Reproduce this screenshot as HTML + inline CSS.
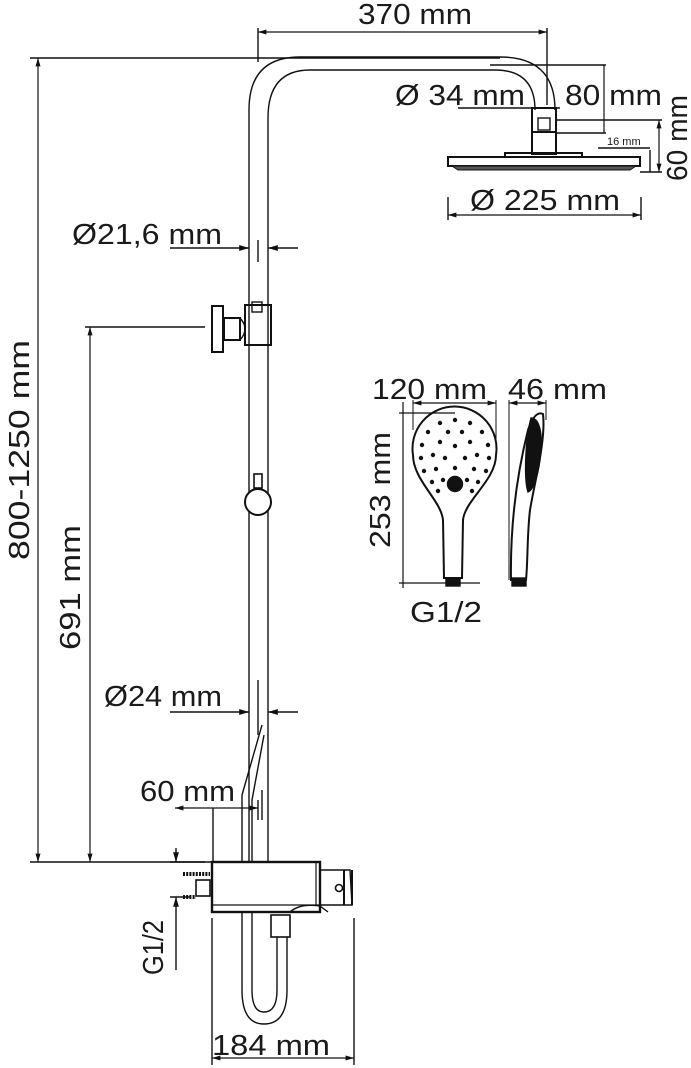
<!DOCTYPE html>
<html><head><meta charset="utf-8"><style>
html,body{margin:0;padding:0;background:#fff}
svg{display:block}
text{font-family:"Liberation Sans",sans-serif;fill:#1a1a1a}
</style></head><body>
<svg width="691" height="1068" viewBox="0 0 691 1068" xmlns="http://www.w3.org/2000/svg">
<defs>
<marker id="a" viewBox="0 0 10 10" refX="10" refY="5" markerWidth="7" markerHeight="7" orient="auto-start-reverse"><path d="M0,2 L10,5 L0,8 z" fill="#111"/></marker>
</defs>
<g stroke="#111" fill="none" stroke-width="1.4">
<path d="M249,862 L249,110 Q249,57 300,57 L500,57 Q555,57 555,110"/>
<path d="M268,862 L268,118 Q268,70 310,70 L495,70 Q535,70 535,110"/>
<rect x="532" y="108" width="24" height="24" stroke-width="2"/>
<rect x="538" y="118" width="12" height="12"/>
<rect x="532" y="132" width="24" height="22" stroke-width="2"/>
<rect x="505" y="153" width="77" height="4" stroke-width="2"/>
<rect x="448" y="157" width="192" height="9" stroke-width="2"/>
<path d="M452,166 L636,166 L630,170 L458,170 z" fill="#555" stroke-width="1"/>
<path d="M258,28 L258,62 M547,28 L547,105"/>
<path d="M258,32 L547,32" marker-start="url(#a)" marker-end="url(#a)" stroke-width="1.2"/>
<path d="M30,58 L500,58 M30,862 L215,862"/>
<path d="M38,58 L38,862" marker-start="url(#a)" marker-end="url(#a)" stroke-width="1.2"/>
<path d="M85,327 L205,327"/>
<path d="M90,327 L90,862" marker-start="url(#a)" marker-end="url(#a)" stroke-width="1.2"/>
<path d="M458,108 L560,108"/>
<path d="M490,65 L606,65 M557,133 L606,133"/>
<path d="M604,65 L604,133" stroke-width="1.2"/>
<path d="M557,120 L662,120 M598,148 L650,148"/>
<path d="M659,120 L659,172" marker-start="url(#a)" marker-end="url(#a)" stroke-width="1.2"/>
<path d="M650,150 L650,172 M640,172 L662,172"/>
<path d="M448,197 L448,220 M641,197 L641,220"/>
<path d="M448,215 L641,215" marker-start="url(#a)" marker-end="url(#a)" stroke-width="1.2"/>
<path d="M170,248 L249,248" marker-end="url(#a)"/>
<path d="M298,248 L268,248" marker-end="url(#a)"/>
<path d="M258,240 L258,262"/>
<rect x="245" y="305" width="26" height="40" stroke-width="2"/>
<rect x="252" y="302" width="10" height="10"/>
<rect x="212" y="306" width="11" height="46" stroke-width="2"/>
<rect x="224" y="318" width="16" height="22" stroke-width="2"/>
<path d="M240,318 Q250,329 240,340"/>
<rect x="254" y="474" width="8" height="14" stroke-width="1.6"/>
<circle cx="258" cy="502" r="13" stroke-width="2" fill="#fff"/>
<path d="M170,712 L249,712" marker-end="url(#a)"/>
<path d="M298,712 L268,712" marker-end="url(#a)"/>
<path d="M258,680 L258,735"/>
<path d="M242,862 L242,795 L262,725 M252,862 L252,800 L264,735"/>
<path d="M213,808 L213,862"/>
<path d="M175,808 L250,808 M213,808 L258,808" marker-start="url(#a)" marker-end="url(#a)" stroke-width="1.2"/>
<path d="M258,800 L258,820 M262,790 L262,820"/>
<rect x="212" y="862" width="108" height="50" stroke-width="2.4"/>
<path d="M212,905 L320,905 M316,862 L316,905" stroke-width="1.2"/>
<path d="M290,912 Q300,903 320,906 L328,912" stroke-width="1.4"/>
<path d="M320,870 L350,870 L352,905 L320,905"/>
<path d="M344,870 L344,905 M352,870 L352,905" stroke-width="2"/>
<circle cx="339" cy="888" r="3.5" stroke-width="1.6"/>
<rect x="196" y="880" width="14" height="16" stroke-width="1.6"/>
<path d="M183,874 L210,874 M183,897 L196,897" stroke-width="4" stroke-dasharray="2 1.2"/>
<path d="M170,862 L205,862 M170,897 L190,897"/>
<path d="M176,848 L176,862" marker-end="url(#a)"/>
<path d="M176,970 L176,897" marker-end="url(#a)"/>
<rect x="271" y="915" width="19" height="22" stroke-width="1.6"/>
<path d="M242,912 L242,990 Q242,1024 264,1024 Q287,1024 287,990 L287,937"/>
<path d="M252,912 L252,990 Q252,1012 264,1012 Q277,1012 277,990 L277,937"/>
<path d="M212,918 L212,1065 M354,918 L354,1065"/>
<path d="M212,1058 L354,1058" marker-start="url(#a)" marker-end="url(#a)" stroke-width="1.2"/>
<path d="M413,455 A42,42 0 1 1 496,455 C496,480 465,500 463,520 L462,578 L444,578 L443,520 C441,500 413,480 413,455 z" stroke-width="2"/>
<rect x="446" y="578" width="14" height="8" fill="#111"/>
<circle cx="455" cy="484" r="7.5" fill="#111"/>
<path d="M403,402 L403,588 M399,413 L455,413 M399,583 L480,583" stroke-width="1.2"/>
<path d="M413,403 L496,403" marker-start="url(#a)" marker-end="url(#a)" stroke-width="1.2"/>
<path d="M413,400 L413,430 M496,400 L496,440" stroke-width="1"/>
<path d="M511,580 C510,520 518,470 528,430 Q535,410 543,414 C546,440 535,480 530,510 C527,535 528,560 526,580 z" stroke-width="2"/>
<path d="M531,418 C538,418 544,430 540,460 C537,480 533,490 528,492 C524,480 525,440 531,418 z" fill="#111"/>
<rect x="512" y="578" width="14" height="8" fill="#111"/>
<path d="M509,403 L546,403" marker-start="url(#a)" marker-end="url(#a)" stroke-width="1.2"/>
<path d="M509,400 L509,580 M546,400 L546,420" stroke-width="1"/>
</g>
<g fill="#111">
<circle cx="455" cy="420" r="2.2"/><circle cx="440" cy="423" r="2.2"/><circle cx="470" cy="423" r="2.2"/>
<circle cx="428" cy="432" r="2.2"/><circle cx="482" cy="432" r="2.2"/><circle cx="448" cy="432" r="2.2"/><circle cx="462" cy="432" r="2.2"/>
<circle cx="422" cy="445" r="2.2"/><circle cx="488" cy="445" r="2.2"/><circle cx="440" cy="442" r="2.2"/><circle cx="470" cy="442" r="2.2"/><circle cx="455" cy="446" r="2.2"/>
<circle cx="421" cy="458" r="2.2"/><circle cx="489" cy="458" r="2.2"/><circle cx="433" cy="455" r="2.2"/><circle cx="477" cy="455" r="2.2"/><circle cx="445" cy="458" r="2.2"/><circle cx="465" cy="458" r="2.2"/>
<circle cx="424" cy="471" r="2.2"/><circle cx="486" cy="471" r="2.2"/><circle cx="436" cy="469" r="2.2"/><circle cx="474" cy="469" r="2.2"/><circle cx="455" cy="468" r="2.2"/>
<circle cx="432" cy="482" r="2.2"/><circle cx="478" cy="482" r="2.2"/><circle cx="443" cy="480" r="2.2"/><circle cx="467" cy="480" r="2.2"/>
<circle cx="438" cy="491" r="2.2"/><circle cx="472" cy="491" r="2.2"/>
</g>
<g font-size="29" lengthAdjust="spacingAndGlyphs">
<text x="358" y="24" textLength="114" lengthAdjust="spacingAndGlyphs">370 mm</text>
<text x="395" y="105" textLength="130" lengthAdjust="spacingAndGlyphs">Ø 34 mm</text>
<text x="565" y="105" textLength="97" lengthAdjust="spacingAndGlyphs">80 mm</text>
<text x="470" y="210" textLength="150" lengthAdjust="spacingAndGlyphs">Ø 225 mm</text>
<text x="72" y="244" textLength="150" lengthAdjust="spacingAndGlyphs">Ø21,6 mm</text>
<text x="104" y="706" textLength="118" lengthAdjust="spacingAndGlyphs">Ø24 mm</text>
<text x="140" y="801" textLength="95" lengthAdjust="spacingAndGlyphs">60 mm</text>
<text x="212" y="1055" textLength="118" lengthAdjust="spacingAndGlyphs">184 mm</text>
<text x="372" y="399" textLength="115" lengthAdjust="spacingAndGlyphs">120 mm</text>
<text x="508" y="399" textLength="99" lengthAdjust="spacingAndGlyphs">46 mm</text>
<text x="410" y="622" textLength="72" lengthAdjust="spacingAndGlyphs">G1/2</text>
<text transform="translate(29,560) rotate(-90)" textLength="220" lengthAdjust="spacingAndGlyphs">800-1250 mm</text>
<text transform="translate(80,650) rotate(-90)" textLength="125" lengthAdjust="spacingAndGlyphs">691 mm</text>
<text transform="translate(687,181) rotate(-90)" textLength="86" lengthAdjust="spacingAndGlyphs">60 mm</text>
<text transform="translate(390,548) rotate(-90)" textLength="116" lengthAdjust="spacingAndGlyphs">253 mm</text>
<text transform="translate(163,975) rotate(-90)" textLength="55" lengthAdjust="spacingAndGlyphs">G1/2</text>
</g>
<text x="607" y="145" font-size="11">16 mm</text>
</svg>
</body></html>
